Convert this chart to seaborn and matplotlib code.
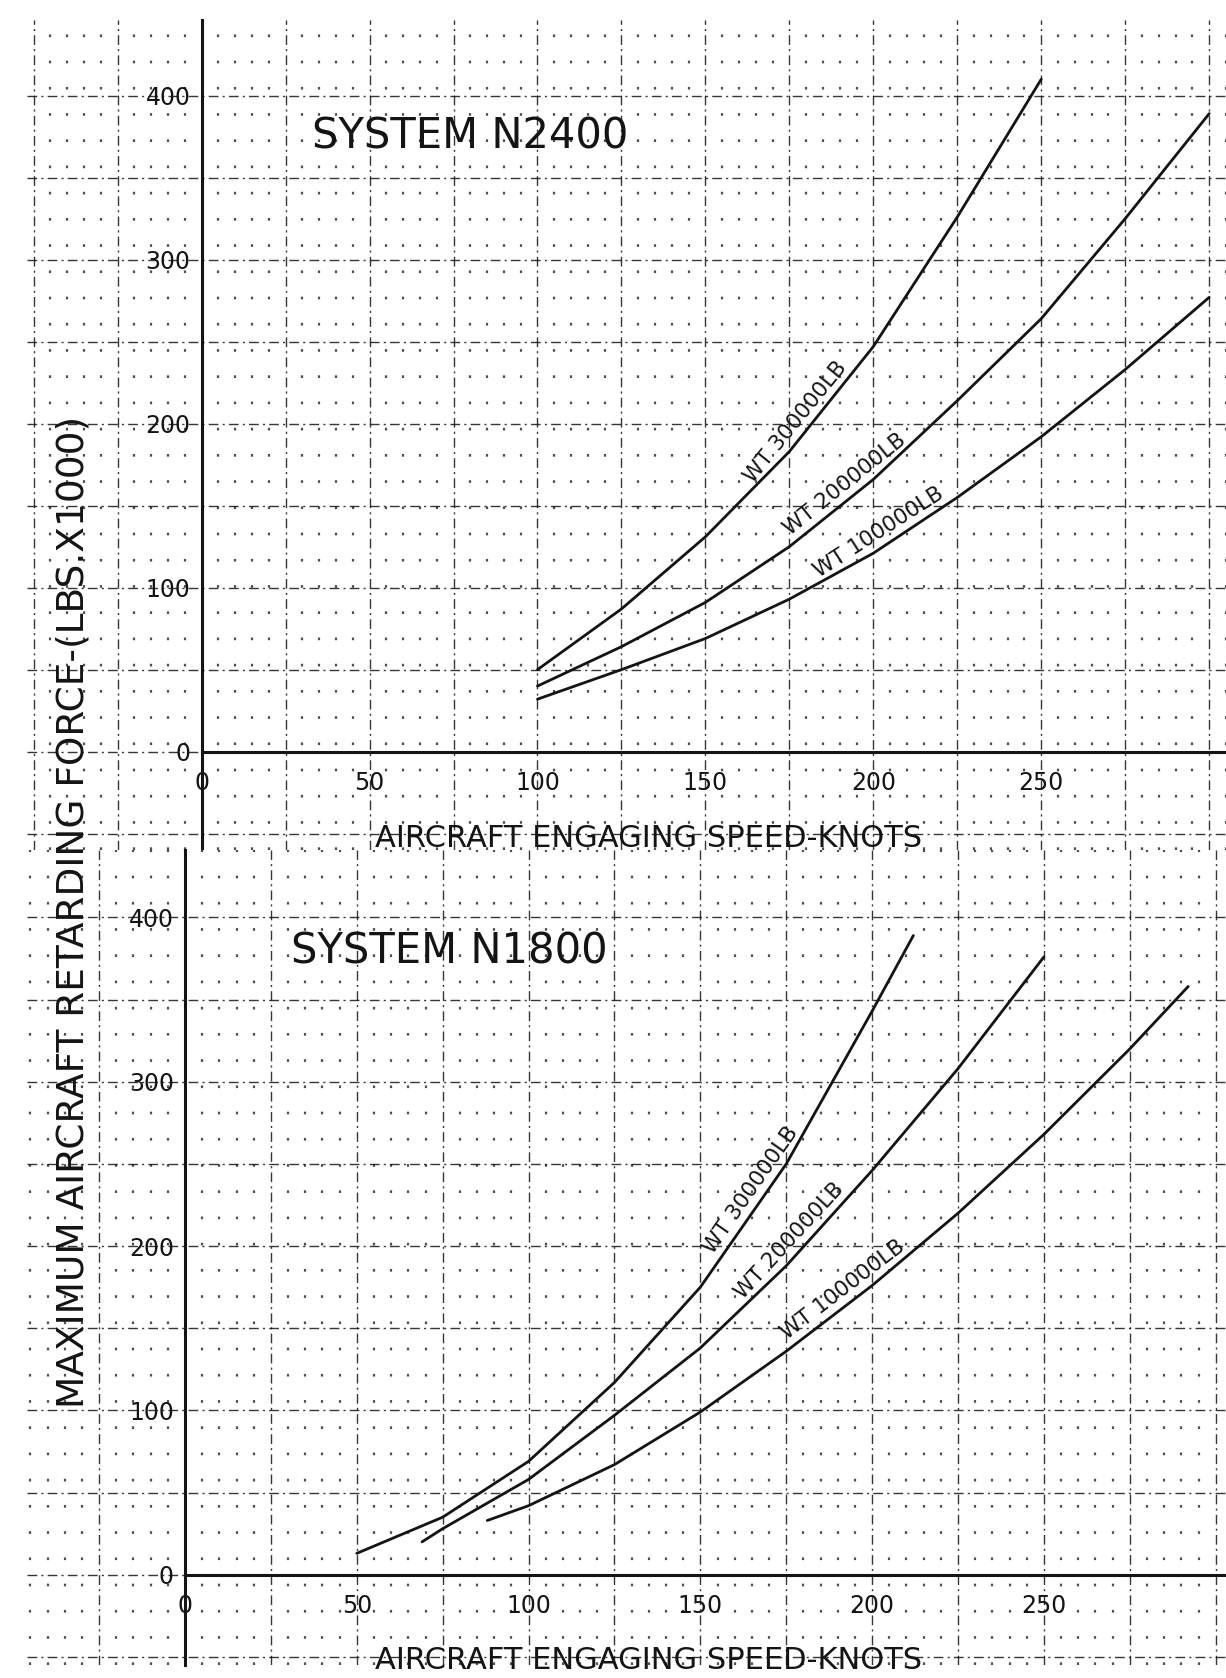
import numpy as np
import pandas as pd
import matplotlib
matplotlib.use("Agg")
import matplotlib.pyplot as plt
import seaborn as sns
from matplotlib.ticker import MultipleLocator, FuncFormatter

# ---------------- data ----------------
weights = ["WT 300000LB", "WT 200000LB", "WT 100000LB"]

# System N2400
n2400_speed_300k = [100, 125, 150, 175, 200, 225, 250]
n2400_force_300k = [50, 87, 131, 183, 247, 326, 410]
n2400_speed_200k = [100, 125, 150, 175, 200, 225, 250, 275, 300]
n2400_force_200k = [40, 64, 91, 125, 166, 214, 264, 325, 389]
n2400_speed_100k = [100, 125, 150, 175, 200, 225, 250, 275, 300]
n2400_force_100k = [32, 50, 69, 93, 121, 155, 192, 233, 277]

# System N1800
n1800_speed_300k = [50, 75, 100, 125, 150, 175, 200, 212]
n1800_force_300k = [13, 35, 69, 117, 175, 250, 343, 389]
n1800_speed_200k = [69, 75, 100, 125, 150, 175, 200, 225, 250]
n1800_force_200k = [20, 28, 58, 97, 138, 188, 246, 308, 376]
n1800_speed_100k = [88, 100, 125, 150, 175, 200, 225, 250, 275, 292]
n1800_force_100k = [33, 42, 67, 99, 136, 176, 220, 268, 320, 358]

x_tick_labels = [0, 50, 100, 150, 200, 250]
y_tick_labels = [0, 100, 200, 300, 400]

panel_titles = ["SYSTEM N2400", "SYSTEM N1800"]
x_label = "AIRCRAFT ENGAGING SPEED-KNOTS"
y_label = "MAXIMUM AIRCRAFT RETARDING FORCE-(LBS.X1000)"

# label anchor speeds along each curve (position styling)
n2400_label_x = [180, 194, 204]
n1800_label_x = [168, 179, 194]

# ---------------- figure ----------------
sns.set_theme(style="white")
plt.rcParams["font.family"] = ["DejaVu Sans"]
INK = "#141414"

fig = plt.figure(figsize=(12.26, 16.78), dpi=100)
fig.patch.set_facecolor("white")
ax_top = fig.add_axes([0.022, 0.4934, 0.978, 0.4946])
ax_bot = fig.add_axes([0.022, 0.0077, 0.978, 0.4857])


def build(speeds, forces):
    rows = []
    for w, s, f in zip(weights, speeds, forces):
        for a, b in zip(s, f):
            rows.append((w, a, b))
    return pd.DataFrame(rows, columns=["weight", "speed", "force"])


def style_panel(ax, xlim, ylim):
    ax.set_facecolor("white")
    ax.set_xlim(*xlim)
    ax.set_ylim(*ylim)
    ax.xaxis.set_major_locator(MultipleLocator(25))
    ax.yaxis.set_major_locator(MultipleLocator(50))
    ax.xaxis.set_minor_locator(MultipleLocator(5))
    ax.yaxis.set_minor_locator(MultipleLocator(10))
    ax.xaxis.set_major_formatter(FuncFormatter(
        lambda v, p: f"{int(round(v))}" if int(round(v)) in x_tick_labels else ""))
    ax.yaxis.set_major_formatter(FuncFormatter(
        lambda v, p: f"{int(round(v))}" if int(round(v)) in y_tick_labels else ""))
    ax.grid(which="major", axis="both", color=INK, lw=1.0,
            ls=(0, (7, 3, 1.5, 3)), alpha=0.85)
    ax.grid(which="minor", axis="x", color=INK, lw=1.6,
            ls=(0, (1.2, 10.6)), alpha=0.75)
    ax.set_axisbelow(True)
    ax.tick_params(which="both", length=0)
    ax.tick_params(axis="x", pad=14, labelsize=17, colors=INK)
    ax.tick_params(axis="y", pad=8, labelsize=17, colors=INK)
    for s in ["top", "right"]:
        ax.spines[s].set_visible(False)
    ax.spines["left"].set_position(("data", 0))
    ax.spines["bottom"].set_position(("data", 0))
    ax.spines["left"].set_linewidth(2.2)
    ax.spines["bottom"].set_linewidth(2.2)
    ax.spines["left"].set_color(INK)
    ax.spines["bottom"].set_color(INK)
    ax.spines["bottom"].set_bounds(0, xlim[1])
    ax.set_xlabel("")
    ax.set_ylabel("")


def label_curves(ax, speeds, forces, xs):
    for text, s, f, xc in zip(weights, speeds, forces, xs):
        y = np.interp(xc, s, f)
        p1 = ax.transData.transform((xc - 6, np.interp(xc - 6, s, f)))
        p2 = ax.transData.transform((xc + 6, np.interp(xc + 6, s, f)))
        ang = np.degrees(np.arctan2(p2[1] - p1[1], p2[0] - p1[0]))
        off = 3.0
        dx, dy = -off * np.sin(np.radians(ang)), off * np.cos(np.radians(ang))
        ax.annotate(text, (xc, y), xytext=(dx, dy), textcoords="offset points",
                    rotation=ang, rotation_mode="anchor", ha="center",
                    va="bottom", fontsize=15.5, color=INK)


panels = [
    (ax_top, (-52, 305), (-60, 446),
     [n2400_speed_300k, n2400_speed_200k, n2400_speed_100k],
     [n2400_force_300k, n2400_force_200k, n2400_force_100k],
     n2400_label_x, panel_titles[0], (80, 375), (133, -53)),
    (ax_bot, (-46, 303), (-55, 441),
     [n1800_speed_300k, n1800_speed_200k, n1800_speed_100k],
     [n1800_force_300k, n1800_force_200k, n1800_force_100k],
     n1800_label_x, panel_titles[1], (77, 379), (135, -52)),
]

for ax, xlim, ylim, sp, fo, lx, title, tpos, xlpos in panels:
    df = build(sp, fo)
    sns.lineplot(data=df, x="speed", y="force", hue="weight",
                 hue_order=weights, palette=[INK] * 3, sort=False,
                 estimator=None, legend=False, lw=2.0, ax=ax)
    style_panel(ax, xlim, ylim)
    label_curves(ax, sp, fo, lx)
    ax.text(tpos[0], tpos[1], title, fontsize=30, color=INK,
            ha="center", va="center")
    ax.text(xlpos[0], xlpos[1], x_label, fontsize=22, color=INK,
            ha="center", va="center")

fig.text(0.06, 0.4565, y_label, rotation=90, fontsize=27, color=INK,
         ha="center", va="center")

fig.savefig("out.png", dpi=100, facecolor="white")
